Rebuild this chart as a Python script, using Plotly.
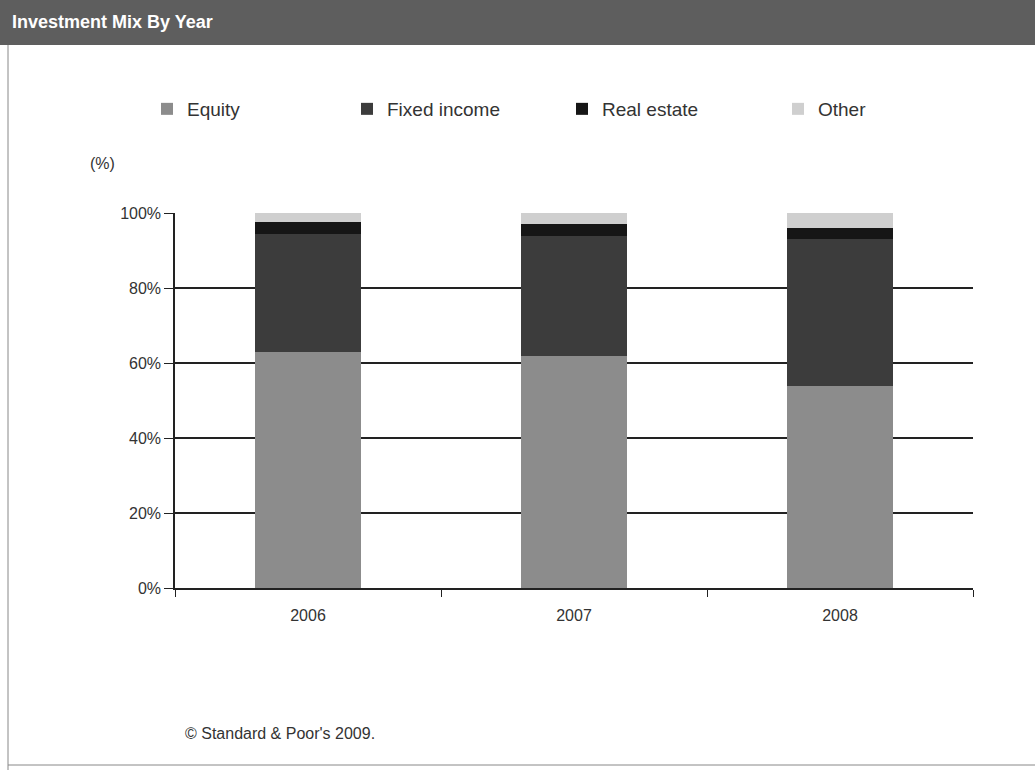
import plotly.graph_objects as go

years = ["2006", "2007", "2008"]
equity = [63, 62, 54]
fixed_income = [31.5, 32, 39]
real_estate = [3, 3, 3]
other = [2.5, 3, 4]

W, H = 1035, 770
L, R, T, B = 175, 62, 213, 182
PW = W - L - R
PH = H - T - B

def px_x(px):
    return (px - L) / PW

def px_y(py):
    return (H - B - py) / PH

fig = go.Figure()
series = [
    ("Equity", equity, "#8c8c8c", "legend", 147),
    ("Fixed income", fixed_income, "#3c3c3c", "legend2", 347),
    ("Real estate", real_estate, "#161616", "legend3", 562),
    ("Other", other, "#cfcfcf", "legend4", 778),
]
legends = {}
for name, vals, col, lg, lx in series:
    fig.add_trace(go.Bar(x=years, y=vals, name=name, legend=lg,
                         marker=dict(color=col, line=dict(width=0))))
    legends[lg] = dict(orientation="h", xref="container", yref="container",
                       x=lx / W, y=1 - 90 / H, xanchor="left", yanchor="top",
                       font=dict(size=19, color="#333"),
                       bgcolor="rgba(0,0,0,0)")

fig.update_layout(
    width=W, height=H,
    barmode="stack", bargap=0.6,
    plot_bgcolor="white", paper_bgcolor="white",
    margin=dict(l=L, r=R, t=T, b=B),
    font=dict(family="Liberation Sans, Arial, sans-serif", color="#222", size=16),
    showlegend=True,
    xaxis=dict(type="category", showline=True, linecolor="#222", linewidth=1.5,
               ticks="outside", tickson="boundaries", ticklen=7, tickcolor="#222",
               ticklabelstandoff=12,
               showgrid=False, tickfont=dict(size=16, color="#333")),
    yaxis=dict(range=[0, 100], tickvals=[0, 20, 40, 60, 80, 100],
               ticktext=["0%", "20%", "40%", "60%", "80%", "100%"],
               showline=True, linecolor="#222", linewidth=1.5,
               ticks="outside", ticklen=9, tickcolor="#222",
               showgrid=True, gridcolor="#222", gridwidth=1.5,
               zeroline=False, tickfont=dict(size=16, color="#333")),
    **legends,
)

# title band
fig.add_shape(type="rect", xref="paper", yref="paper",
              x0=px_x(0), x1=px_x(W), y0=px_y(45), y1=px_y(0),
              fillcolor="#5e5e5e", line=dict(width=0), layer="below")
# frame lines
fig.add_shape(type="line", xref="paper", yref="paper",
              x0=px_x(8), x1=px_x(8), y0=px_y(45), y1=px_y(H),
              line=dict(color="#888", width=1))
fig.add_shape(type="line", xref="paper", yref="paper",
              x0=px_x(8), x1=px_x(W), y0=px_y(765), y1=px_y(765),
              line=dict(color="#888", width=1))

fig.add_annotation(xref="paper", yref="paper", x=px_x(10), y=px_y(22),
                   xanchor="left", yanchor="middle", showarrow=False,
                   text="<b>Investment Mix By Year</b>",
                   font=dict(size=18, color="white", family="Liberation Sans, Arial, sans-serif"))
fig.add_annotation(xref="paper", yref="paper", x=px_x(88), y=px_y(163),
                   xanchor="left", yanchor="middle", showarrow=False,
                   text="(%)", font=dict(size=16, color="#333"))
fig.add_annotation(xref="paper", yref="paper", x=px_x(183), y=px_y(733),
                   xanchor="left", yanchor="middle", showarrow=False,
                   text="© Standard & Poor's 2009.", font=dict(size=16, color="#333"))

fig.write_html("out.html")
